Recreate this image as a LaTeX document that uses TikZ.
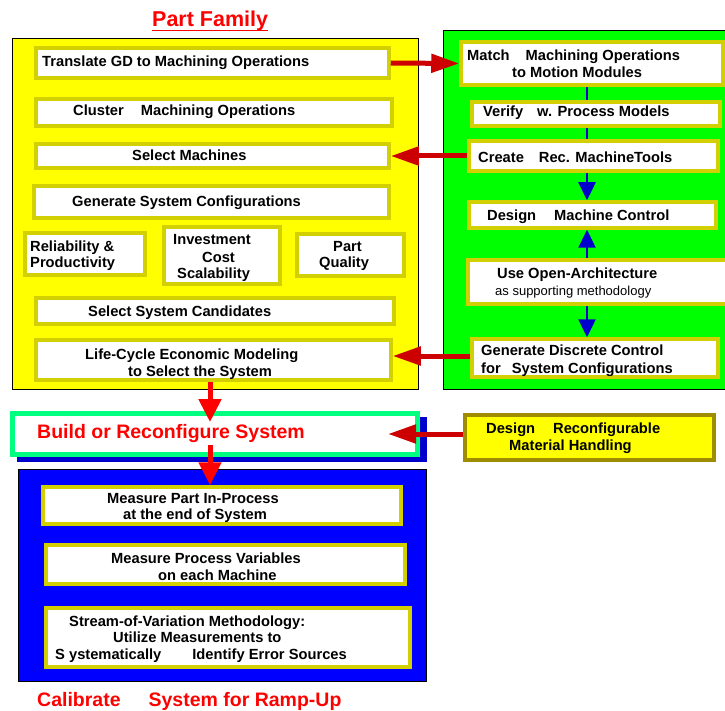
\documentclass[tikz,border=0pt]{standalone}
\usepackage{fontspec}
\setmainfont{Liberation Sans}
\usetikzlibrary{arrows.meta,fit}
\definecolor{yel}{RGB}{255,255,0}
\definecolor{rim}{RGB}{210,208,0}
\definecolor{grn}{RGB}{0,255,0}
\definecolor{blu}{RGB}{0,0,255}
\definecolor{shadowblu}{RGB}{0,0,204}
\definecolor{dred}{RGB}{204,0,0}
\definecolor{bred}{RGB}{255,0,0}
\definecolor{arrblu}{RGB}{0,0,204}
\definecolor{buildrim}{RGB}{0,255,128}
\definecolor{mhrim}{RGB}{160,140,0}
\begin{document}
\begin{tikzpicture}[x=1pt,y=-1pt,
  panel/.style={draw=black, line width=1pt, inner sep=0pt},
  ibox/.style={draw=rim, line width=3.5pt, fill=white, inner sep=0pt},
  t/.style={anchor=base west, inner sep=0pt, font=\bfseries\fontsize{14.7}{17}\selectfont},
  tsmall/.style={anchor=base west, inner sep=0pt, font=\fontsize{13}{15}\selectfont},
  tbig/.style={anchor=base west, inner sep=0pt, text=bred, font=\bfseries\fontsize{19.5}{23}\selectfont},
  redh/.style={draw=dred, line width=5pt, -{Triangle[length=28pt,width=18pt]}},
  redv/.style={draw=bred, line width=5pt, -{Triangle[length=23pt,width=22pt]}},
  bline/.style={draw=arrblu, line width=2.5pt},
  barrow/.style={draw=arrblu, line width=2.5pt, -{Triangle[length=18pt,width=17pt]}}]
\useasboundingbox (0,0) rectangle (725,711);
\clip (0,0) rectangle (725,711);
\fill[white] (0,0) rectangle (725,711);

% title
\node[anchor=base west, inner sep=0pt, text=bred, font=\bfseries\fontsize{21.5}{25}\selectfont] (title) at (152,27) {Part Family};
\draw[bred, line width=1.5pt] ([yshift=-3.5pt]title.base west) -- ([yshift=-3.5pt]title.base east);

% panels
\node[panel, fill=yel, fit={(12,39)(418,389)}] (fam) {};
\node[panel, fill=grn, fit={(443,31)(740,389)}] (ctl) {};
\node[panel, fill=blu, fit={(18,469)(426,681)}] (cal) {};

% yellow panel boxes
\node[ibox, fit={(36,48)(389,78)}] (tr) {};
\node[ibox, fit={(36,99)(392,126)}] (cl) {};
\node[ibox, fit={(36,144)(389,168)}] (sm) {};
\node[ibox, fit={(34,186)(389,218)}] (gc) {};
\node[ibox, fit={(25,233)(145,275)}] (rp) {};
\node[ibox, fit={(164,227)(280,284)}] (ic) {};
\node[ibox, fit={(297,234)(404,276)}] (pq) {};
\node[ibox, fit={(36,298)(394,324)}] (sc) {};
\node[ibox, fit={(36,340)(391,380)}] (lc) {};

% green panel boxes
\node[ibox, fit={(461,42)(723,85)}] (ma) {};
\node[ibox, fit={(472,102)(720,126)}] (ve) {};
\node[ibox, fit={(469,141)(718,171)}] (cr) {};
\node[ibox, fit={(469,202)(716,228)}] (dc) {};
\node[ibox, fit={(468,260)(740,304)}] (uo) {};
\node[ibox, fit={(472,339)(718,377)}] (gd) {};

% blue panel boxes
\node[ibox, fit={(43,487)(401,524)}] (mp) {};
\node[ibox, fit={(46,545)(405,584)}] (mv) {};
\node[ibox, fit={(46,608)(410,667)}] (sv) {};

% build box with shadow
\node[fill=shadowblu, inner sep=0pt, fit={(17,417)(427,462)}] (bshadow) {};
\node[draw=buildrim, line width=5pt, fill=white, inner sep=0pt, fit={(12.5,413.5)(417.5,454.5)}] (build) {};

% material handling box
\node[draw=mhrim, line width=3.5pt, fill=yel, inner sep=0pt, fit={(465,415)(714,460)}] (mh) {};

% texts
\node[t] (t1) at (42,67) {Translate GD to Machining Operations};
\node[t] (t2) at (73,116) {Cluster\hspace{17pt}Machining Operations};
\node[t] (t3) at (132,161) {Select Machines};
\node[t] (t4) at (72,207) {Generate System Configurations};
\node[t] (t5) at (30,252) {Reliability \&};
\node[t] (t6) at (30,268) {Productivity};
\node[t] (t7) at (173,245) {Investment};
\node[t] (t8) at (202,262) {Cost};
\node[t] (t9) at (177,279) {Scalability};
\node[t] (t10) at (333,252) {Part};
\node[t] (t11) at (319,268) {Quality};
\node[t] (t12) at (88,316) {Select System Candidates};
\node[t] (t13) at (85,359) {Life-Cycle Economic Modeling};
\node[t] (t14) at (128,376) {to Select the System};

\node[t] (t15) at (467,61) {Match\hspace{16pt}Machining Operations};
\node[t] (t16) at (512,78) {to Motion Modules};
\node[t] (t17) at (483,117) {Verify\hspace{14pt}w. Process Models};
\node[t] (t18) at (478,163) {Create\hspace{15pt}Rec. MachineTools};
\node[t] (t19) at (487,221) {Design\hspace{18pt}Machine Control};
\node[t] (t20) at (497,278) {Use Open-Architecture};
\node[tsmall] (t21) at (495,295) {as supporting methodology};
\node[t] (t22) at (481,355) {Generate Discrete Control};
\node[t] (t23) at (481,373) {for\hspace{11pt}System Configurations};

\node[t] (t24) at (486,433) {Design\hspace{18pt}Reconfigurable};
\node[t] (t25) at (509,450) {Material Handling};

\node[tbig] (t26) at (37,438) {Build or Reconfigure System};

\node[t] (t27) at (107,503) {Measure Part In-Process};
\node[t] (t28) at (123,519) {at the end of System};
\node[t] (t29) at (111,563) {Measure Process Variables};
\node[t] (t30) at (158,580) {on each Machine};
\node[t] (t31) at (69,626) {Stream-of-Variation Methodology:};
\node[t] (t32) at (113,642) {Utilize Measurements to};
\node[t] (t33) at (55,659) {S ystematically\hspace{31pt}Identify Error Sources};

\node[tbig] (t34) at (37,706) {Calibrate\hspace{28pt}System for Ramp-Up};

% red connectors
\draw[redh] (tr.east) -- (ma.west);
\draw[redh] (cr.west) -- (cr.west -| sm.east);
\draw[redh] ([yshift=2pt]gd.west) -- ([yshift=2pt]gd.west -| lc.east);
\coordinate (btip) at (388,434);
\draw[redh] (mh.west |- btip) -- (btip);

\coordinate (v1) at (210,422);
\draw[redv] (lc.south -| v1) -- (v1);
\coordinate (v2) at (210,445);
\draw[redv] (v2) -- (mp.north -| v2);

% blue connectors
\coordinate (gx) at (587,0);
\draw[bline] (ma.south -| gx) -- (ve.north -| gx);
\draw[bline] (ve.south -| gx) -- (cr.north -| gx);
\draw[barrow] (cr.south -| gx) -- (dc.north -| gx);
\draw[barrow] (uo.north -| gx) -- (dc.south -| gx);
\draw[barrow] (uo.south -| gx) -- (gd.north -| gx);
\end{tikzpicture}
\end{document}
